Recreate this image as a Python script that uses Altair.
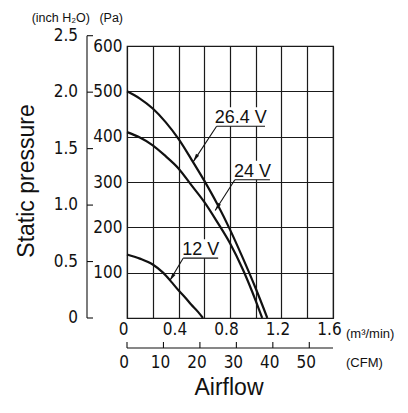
import altair as alt
import pandas as pd

# ---- data ----
flow_264 = [0, 0.1, 0.2, 0.3, 0.4, 0.5, 0.6, 0.7, 0.8, 0.9, 1.0, 1.09]
pres_264 = [500, 484, 462, 432, 395, 350, 303, 252, 195, 132, 65, 0]
flow_24 = [0, 0.1, 0.2, 0.3, 0.4, 0.5, 0.6, 0.7, 0.8, 0.9, 1.0, 1.05]
pres_24 = [410, 398, 381, 357, 330, 293, 256, 212, 165, 107, 38, 0]
flow_12 = [0, 0.1, 0.2, 0.28, 0.35, 0.4, 0.45, 0.5, 0.55, 0.59]
pres_12 = [140, 131, 118, 100, 78, 61, 46, 29, 14, 0]

x_ticks = [0, 0.2, 0.4, 0.6, 0.8, 1.0, 1.2, 1.4, 1.6]
pa_ticks = [0, 100, 200, 300, 400, 500, 600]
inch_vals = [0, 0.5, 1.0, 1.5, 2.0, 2.5]
inch_labels = ["0", "0.5", "1.0", "1.5", "2.0", "2.5"]
cfm_vals = [0, 10, 20, 30, 40, 50]
cfm_labels = ["0", "10", "20", "30", "40", "50"]
PA_PER_INCH = 249.089
M3MIN_PER_CFM = 0.0283168

label_names = ["26.4 V", "24 V", "12 V"]
label_x0 = [0.696, 0.838, 0.436]
label_x1 = [1.072, 1.11, 0.708]
label_y = [423, 305, 132]
tip_x = [0.515, 0.685, 0.332]
tip_y = [345, 237, 82]

# ---- tables ----
curves = pd.DataFrame({
    "flow": flow_264 + flow_24 + flow_12,
    "pres": pres_264 + pres_24 + pres_12,
    "series": ["26.4 V"] * len(flow_264) + ["24 V"] * len(flow_24) + ["12 V"] * len(flow_12),
})
labels = pd.DataFrame({"name": label_names, "x0": label_x0, "x1": label_x1,
                       "y": label_y, "tx": tip_x, "ty": tip_y})
inch_df = pd.DataFrame({"inch": inch_vals, "lab": inch_labels})
cfm_df = pd.DataFrame({"cfm": cfm_vals, "lab": cfm_labels})

NARROW = "Liberation Sans Narrow, Arial Narrow, DejaVu Sans Condensed, sans-serif"
SANS = "Liberation Sans, Arial, Helvetica, sans-serif"
INK = "#111111"
GRID = "#1a1a1a"

xs = alt.Scale(domain=[0, 1.6], nice=False, zero=False)
ys = alt.Scale(domain=[0, 600], nice=False, zero=False)

x_axis = alt.Axis(values=x_ticks, grid=True, ticks=False, domain=False, title=None,
                  gridColor=GRID, gridWidth=1.2, labelFlush=False,
                  labelExpr="round(datum.value*10) % 4 == 0 ? (datum.value == 0 ? '0' : format(datum.value, '.1f')) : ''",
                  labelFont=NARROW, labelFontSize=17, labelColor=INK,
                  labelPadding=3, labelOffset=-4)
y_axis = alt.Axis(values=pa_ticks, grid=True, ticks=False, domain=False, title=None,
                  gridColor=GRID, gridWidth=1.2, labelFlush=False,
                  labelExpr="datum.value == 0 ? '' : datum.label",
                  labelFont=NARROW, labelFontSize=17, labelColor=INK, labelPadding=5)


def X(field):
    return alt.X(field, scale=xs, axis=x_axis)


def Y(field):
    return alt.Y(field, scale=ys, axis=y_axis)


lines = alt.Chart(curves).mark_line(color=INK, strokeWidth=2.2, interpolate="monotone").encode(
    x=X("flow:Q"), y=Y("pres:Q"), detail="series:N",
)

# white boxes behind labels (hide grid)
boxes = alt.Chart(labels).mark_rect(color="white", y2Offset=-19).encode(
    x=X("x0:Q"), x2="x1:Q", y=Y("y:Q"), y2="y:Q",
)
underline = alt.Chart(labels).mark_rule(color=INK, strokeWidth=1.2).encode(
    x=X("x0:Q"), x2="x1:Q", y=Y("y:Q"),
)
leader = alt.Chart(labels).mark_rule(color=INK, strokeWidth=1.1).encode(
    x=X("x0:Q"), x2="tx:Q", y=Y("y:Q"), y2="ty:Q",
)
arrows = alt.Chart(labels).mark_point(
    shape="M0,0L0.45,2L-0.45,2Z", filled=True, color=INK, opacity=1, size=64, angle=212
).encode(x=X("tx:Q"), y=Y("ty:Q"))
label_text = alt.Chart(labels).transform_calculate(xm="(datum.x0 + datum.x1) / 2").mark_text(
    font=SANS, fontSize=18, color=INK, align="center", baseline="alphabetic", dy=-3
).encode(x=X("xm:Q"), y=Y("y:Q"), text="name:N")

# secondary left axis: inch H2O
inch_base = alt.Chart(inch_df).transform_calculate(pa=f"datum.inch * {PA_PER_INCH}")
inch_line = inch_base.mark_rule(color=INK, strokeWidth=1.1).encode(
    x=alt.value(-40), y=Y("min(pa):Q"), y2="max(pa):Q",
)
inch_ticks = inch_base.mark_rule(color=INK, strokeWidth=1.1).encode(
    x=alt.value(-40), x2=alt.value(-34), y=Y("pa:Q"),
)
inch_text = inch_base.mark_text(font=NARROW, fontSize=17, color=INK, align="right", baseline="middle").encode(
    x=alt.value(-49), y=Y("pa:Q"), text="lab:N",
)

# secondary bottom axis: CFM
cfm_base = alt.Chart(cfm_df).transform_calculate(m3=f"datum.cfm * {M3MIN_PER_CFM}")
cfm_line = alt.Chart(pd.DataFrame({"a": [x_ticks[0]], "b": [x_ticks[-1]]})).mark_rule(
    color=INK, strokeWidth=1.1).encode(x=X("a:Q"), x2="b:Q", y=alt.value(302))
cfm_ticks = cfm_base.mark_rule(color=INK, strokeWidth=1.1).encode(
    x=X("m3:Q"), y=alt.value(296), y2=alt.value(302),
)
cfm_text = cfm_base.mark_text(font=NARROW, fontSize=17, color=INK, align="center", baseline="middle", dx=-3).encode(
    x=X("m3:Q"), y=alt.value(317), text="lab:N",
)


def free_text(txt, x, y, size, align="left", angle=0, font=SANS):
    kw = dict(font=font, fontSize=size, color=INK, align=align, baseline="middle")
    if angle:
        kw["angle"] = angle
    return alt.Chart(pd.DataFrame({"t": [txt]})).mark_text(**kw).encode(
        text="t:N", x=alt.value(x), y=alt.value(y))


texts = [
    free_text("(m³/min)", 219, 288, 13),
    free_text("(CFM)", 219, 317, 13),
    free_text("Airflow", 102, 342, 23, align="center"),
    free_text("Static pressure", -100, 135, 23, align="center", angle=270),
    free_text("(inch H₂O)", -37, -28, 12.5, align="right"),
    free_text("(Pa)", -4, -28, 12.5, align="right"),
]

chart = alt.layer(
    lines, boxes, underline, leader, arrows, label_text,
    inch_line, inch_ticks, inch_text,
    cfm_line, cfm_ticks, cfm_text,
    *texts,
).properties(
    width=206, height=272,
    autosize=alt.AutoSizeParams(type="none"),
    padding={"left": 127, "top": 46, "right": 75, "bottom": 95},
    background="white",
).configure_view(stroke=GRID, strokeWidth=1.2)

chart.save("out.html", embed_options={"renderer": "svg", "actions": False})
